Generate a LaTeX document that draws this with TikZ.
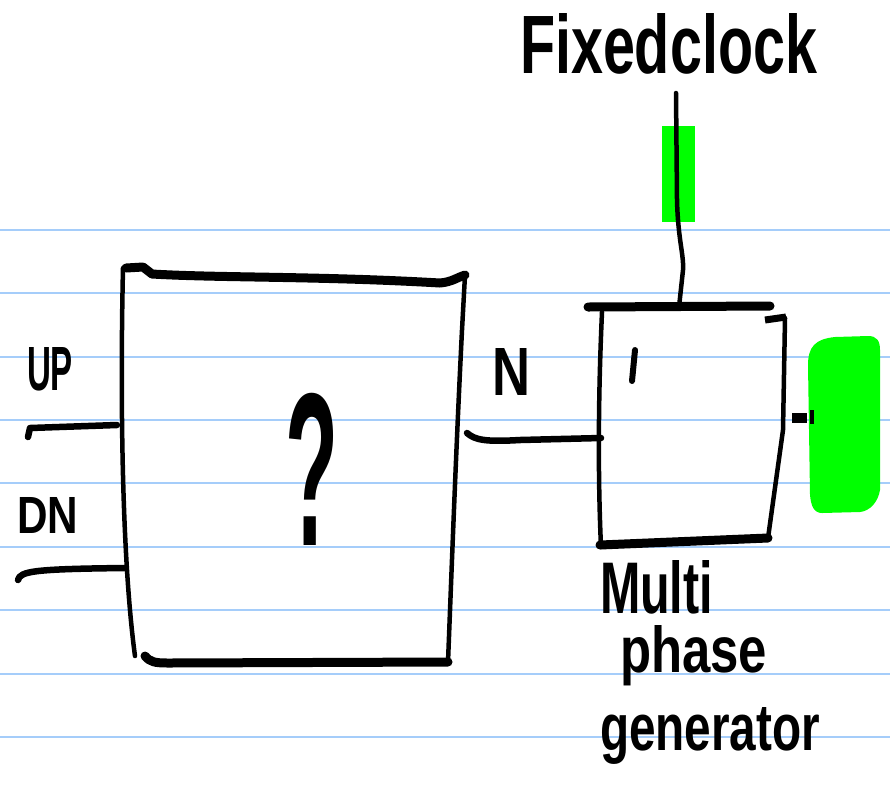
\documentclass[tikz,border=0pt]{standalone}
\usepackage{fontspec}
\setmainfont{Liberation Sans}
\definecolor{ruleblue}{RGB}{165,205,250}
\definecolor{marker}{RGB}{0,255,0}
% hand lettering: text stretched into a box of given width and height
\newcommand\handtext[3]{\resizebox{#1pt}{#2pt}{\bfseries #3}}
\begin{document}
\begin{tikzpicture}[x=1pt,y=-1pt,line cap=round,line join=round,
  ruled/.style={draw=ruleblue,line width=2pt},
  pen/.style={draw=black,line width=4.5pt},
  fatpen/.style={draw=black,line width=9pt},
  wire/.style={draw=black,line width=6.5pt},
  lbl/.style={anchor=base west,inner sep=0pt,outer sep=0pt}]
\useasboundingbox (0,0) rectangle (890,788);
\fill[white] (0,0) rectangle (890,788);
% ruled paper
\foreach \ry in {230,293.3,356.7,420,483.4,546.8,610.2,673.6,737}
  \draw[ruled] (0,\ry) -- (890,\ry);
% highlighter marks
\fill[marker] (662,126) rectangle (695,222);
\fill[marker] (808,365) .. controls (808,347) and (815,339) .. (835,337)
  -- (868,336) .. controls (877,336) and (880,341) .. (880,350)
  -- (880,490) .. controls (878,502) and (870,511) .. (860,512)
  -- (822,513) .. controls (814,513) and (811,506) .. (810,495) -- cycle;

% unknown block
\coordinate (qb-tl) at (123,268);
\coordinate (qb-tr) at (465,275);
\coordinate (qb-br) at (448,662);
\coordinate (qb-bl) at (135,656);
\coordinate (qb-up) at (117,425);
\coordinate (qb-dn) at (125,568);
\coordinate (qb-n)  at (467,433);
\draw[pen] (qb-tl) .. controls (120,400) and (122,560) .. (qb-bl);
\draw[fatpen] (126,268) -- (143,267) -- (152,274)
  .. controls (220,278) and (320,276) .. (440,283)
  .. controls (452,282) and (458,277) .. (qb-tr);
\draw[pen] (qb-tr) -- (462,330) .. controls (456,450) and (452,560) .. (qb-br);
\draw[fatpen] (145,656) .. controls (150,662) and (155,663) .. (168,663)
  -- (qb-br);

% multiphase generator block
\coordinate (mp-tl) at (588,307);
\coordinate (mp-tr) at (770,306);
\coordinate (mp-in) at (601,438);
\coordinate (mp-clk) at (679,307);
\coordinate (mp-bl) at (601,547);
\coordinate (mp-br) at (768,538);
\draw[fatpen] (mp-tl) -- (mp-tr);
\draw[pen] (602,312) .. controls (598,400) and (598,480) .. (mp-bl);
\draw[fatpen] (600,545) -- (mp-br);
\draw[line width=7pt,line cap=butt] (765,320) -- (786,317);
\draw[pen] (785,318) -- (783,430) -- (mp-br);
\draw[line width=6pt] (635,350) -- (632,381);
\draw[line width=10pt,line cap=butt] (792,418) -- (807,418);
\draw[line width=4pt,line cap=butt] (812,410) -- (812,424);

% fixed clock feed
\coordinate (clk-top) at (676,93);
\draw[pen] (clk-top) -- (677,200) .. controls (678,240) and (684,255) .. (683,270) -- (mp-clk);

% inputs and count wire
\coordinate (up-end) at (28,437);
\coordinate (dn-end) at (18,580);
\draw[wire] (up-end) -- (30,428) -- (qb-up);
\draw[wire] (dn-end) .. controls (20,571) and (35,569) .. (qb-dn);
\draw[wire] (qb-n) .. controls (475,440) and (485,442) .. (520,440) -- (mp-in);

% lettering
\node[lbl] (t-clock) at (520,73) {\handtext{297}{60}{Fixedclock}};
\node[lbl] (t-up) at (27,390) {\handtext{46}{43}{UP}};
\node[lbl] (t-dn) at (17,533) {\handtext{61}{36}{DN}};
\node[lbl] (t-n) at (492,395) {\handtext{38}{47}{N}};
\node[lbl] (t-q) at (285,545) {\handtext{53}{152}{?}};
\node[lbl] (t-multi) at (600,613) {\handtext{113}{53}{Multi}};
\node[lbl] (t-phase) at (620,672) {\handtext{147}{47}{phase}};
\node[lbl] (t-gen) at (600,750) {\handtext{220}{43}{generator}};
\end{tikzpicture}
\end{document}
